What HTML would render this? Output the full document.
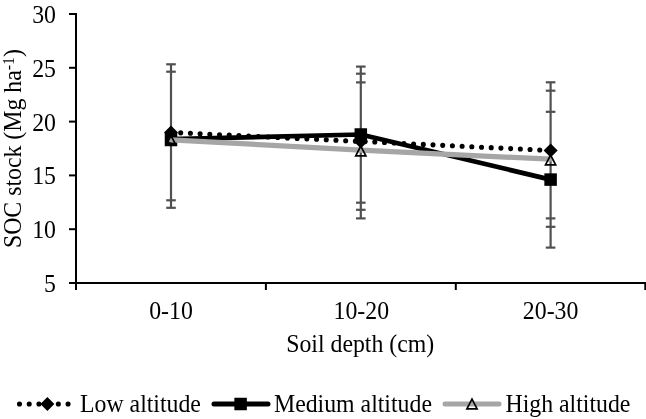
<!DOCTYPE html>
<html><head><meta charset="utf-8"><title>SOC stock chart</title>
<style>
html,body{margin:0;padding:0;background:#fff;}
body{width:646px;height:419px;overflow:hidden;}
svg{display:block;}
text{font-family:"Liberation Serif", "Times New Roman", serif;font-size:24px;fill:#000;}
</style></head><body>
<svg width="646" height="419" viewBox="0 0 646 419">
<rect width="646" height="419" fill="#fff"/>
<line x1="76.0" y1="13" x2="76.0" y2="283.0" stroke="#000" stroke-width="2"/>
<line x1="69" y1="14.0" x2="76.0" y2="14.0" stroke="#000" stroke-width="2"/>
<line x1="69" y1="67.8" x2="76.0" y2="67.8" stroke="#000" stroke-width="2"/>
<line x1="69" y1="121.6" x2="76.0" y2="121.6" stroke="#000" stroke-width="2"/>
<line x1="69" y1="175.4" x2="76.0" y2="175.4" stroke="#000" stroke-width="2"/>
<line x1="69" y1="229.2" x2="76.0" y2="229.2" stroke="#000" stroke-width="2"/>
<line x1="69" y1="283.0" x2="76.0" y2="283.0" stroke="#000" stroke-width="2"/>
<line x1="69" y1="283.0" x2="646" y2="283.0" stroke="#000" stroke-width="2"/>
<line x1="76.0" y1="283.0" x2="76.0" y2="290" stroke="#000" stroke-width="2"/>
<line x1="265.9" y1="283.0" x2="265.9" y2="290" stroke="#000" stroke-width="2"/>
<line x1="455.8" y1="283.0" x2="455.8" y2="290" stroke="#000" stroke-width="2"/>
<line x1="645.3" y1="283.0" x2="645.3" y2="290" stroke="#000" stroke-width="2"/>
<text transform="translate(56.0,22.9) scale(0.992,1.05)" text-anchor="end">30</text>
<text transform="translate(56.0,76.7) scale(0.992,1.05)" text-anchor="end">25</text>
<text transform="translate(56.0,130.5) scale(0.992,1.05)" text-anchor="end">20</text>
<text transform="translate(56.0,184.3) scale(0.992,1.05)" text-anchor="end">15</text>
<text transform="translate(56.0,238.1) scale(0.992,1.05)" text-anchor="end">10</text>
<text transform="translate(56.0,291.9) scale(0.992,1.05)" text-anchor="end">5</text>
<text transform="translate(171.0,319.4) scale(0.992,1.05)" text-anchor="middle">0-10</text>
<text transform="translate(361.3,319.4) scale(0.992,1.05)" text-anchor="middle">10-20</text>
<text transform="translate(550.6,319.4) scale(0.992,1.05)" text-anchor="middle">20-30</text>
<text transform="translate(360.2,352.0) scale(0.992,1.05)" text-anchor="middle">Soil depth (cm)</text>
<text transform="translate(21.2,148.6) rotate(-90) scale(0.992,1.05)" text-anchor="middle">SOC stock (Mg ha<tspan dy="-7" font-size="16">-1</tspan><tspan dy="7">)</tspan></text>
<line x1="171.0" y1="64.3" x2="171.0" y2="207.8" stroke="#505050" stroke-width="2.2"/>
<line x1="166.2" y1="64.3" x2="175.8" y2="64.3" stroke="#505050" stroke-width="2.2"/>
<line x1="166.2" y1="71.7" x2="175.8" y2="71.7" stroke="#505050" stroke-width="2.2"/>
<line x1="166.2" y1="200.3" x2="175.8" y2="200.3" stroke="#505050" stroke-width="2.2"/>
<line x1="166.2" y1="207.8" x2="175.8" y2="207.8" stroke="#505050" stroke-width="2.2"/>
<line x1="360.8" y1="66.6" x2="360.8" y2="218.4" stroke="#505050" stroke-width="2.2"/>
<line x1="356.0" y1="66.6" x2="365.6" y2="66.6" stroke="#505050" stroke-width="2.2"/>
<line x1="356.0" y1="73.7" x2="365.6" y2="73.7" stroke="#505050" stroke-width="2.2"/>
<line x1="356.0" y1="82.4" x2="365.6" y2="82.4" stroke="#505050" stroke-width="2.2"/>
<line x1="356.0" y1="202.7" x2="365.6" y2="202.7" stroke="#505050" stroke-width="2.2"/>
<line x1="356.0" y1="209.8" x2="365.6" y2="209.8" stroke="#505050" stroke-width="2.2"/>
<line x1="356.0" y1="218.4" x2="365.6" y2="218.4" stroke="#505050" stroke-width="2.2"/>
<line x1="550.6" y1="82.3" x2="550.6" y2="247.6" stroke="#505050" stroke-width="2.2"/>
<line x1="545.8000000000001" y1="82.3" x2="555.4" y2="82.3" stroke="#505050" stroke-width="2.2"/>
<line x1="545.8000000000001" y1="90.7" x2="555.4" y2="90.7" stroke="#505050" stroke-width="2.2"/>
<line x1="545.8000000000001" y1="111.8" x2="555.4" y2="111.8" stroke="#505050" stroke-width="2.2"/>
<line x1="545.8000000000001" y1="218.4" x2="555.4" y2="218.4" stroke="#505050" stroke-width="2.2"/>
<line x1="545.8000000000001" y1="226.8" x2="555.4" y2="226.8" stroke="#505050" stroke-width="2.2"/>
<line x1="545.8000000000001" y1="247.6" x2="555.4" y2="247.6" stroke="#505050" stroke-width="2.2"/>
<polyline points="171.0,132.4 360.8,141.4 550.6,150.5" fill="none" stroke="#000" stroke-width="5.1" stroke-linecap="round" stroke-dasharray="0 9.715"/>
<polygon points="171.0,125.4 178.0,132.4 171.0,139.4 164.0,132.4" fill="#000"/>
<polygon points="360.8,134.4 367.8,141.4 360.8,148.4 353.8,141.4" fill="#000"/>
<polygon points="550.6,143.5 557.6,150.5 550.6,157.5 543.6,150.5" fill="#000"/>
<polyline points="171.0,139.2 360.8,134.5 550.6,179.6" fill="none" stroke="#000" stroke-width="4.7" stroke-linejoin="round"/>
<rect x="164.75" y="132.95" width="12.5" height="12.5" fill="#000"/>
<rect x="354.55" y="128.25" width="12.5" height="12.5" fill="#000"/>
<rect x="544.35" y="173.35" width="12.5" height="12.5" fill="#000"/>
<polyline points="171.0,139.8 360.8,150.2 550.6,159.2" fill="none" stroke="#a6a6a6" stroke-width="5.2" stroke-linejoin="round" stroke-linecap="round"/>
<polygon points="171.0,135.7 176.1,145.5 165.9,145.5" fill="none" stroke="#000" stroke-width="1.7"/>
<polygon points="360.8,146.1 365.90000000000003,155.9 355.7,155.9" fill="none" stroke="#000" stroke-width="1.7"/>
<polygon points="550.6,155.1 555.7,164.9 545.5,164.9" fill="none" stroke="#000" stroke-width="1.7"/>
<line x1="19.5" y1="404.0" x2="72" y2="404.0" stroke="#000" stroke-width="5.1" stroke-linecap="round" stroke-dasharray="0 9.715"/>
<polygon points="47.4,397.0 54.4,404.0 47.4,411.0 40.4,404.0" fill="#000"/>
<text transform="translate(80,412.2) scale(0.992,1.05)" text-anchor="start">Low altitude</text>
<line x1="214" y1="404.0" x2="268" y2="404.0" stroke="#000" stroke-width="5" stroke-linecap="round"/>
<rect x="234.35" y="397.75" width="12.5" height="12.5" fill="#000"/>
<text transform="translate(274,412.2) scale(0.992,1.05)" text-anchor="start">Medium altitude</text>
<line x1="445" y1="404.0" x2="499" y2="404.0" stroke="#a6a6a6" stroke-width="5" stroke-linecap="round"/>
<polygon points="472,399.1 477.1,408.9 466.9,408.9" fill="none" stroke="#000" stroke-width="1.7"/>
<text transform="translate(505.5,412.2) scale(0.992,1.05)" text-anchor="start">High altitude</text>
</svg>
</body></html>
